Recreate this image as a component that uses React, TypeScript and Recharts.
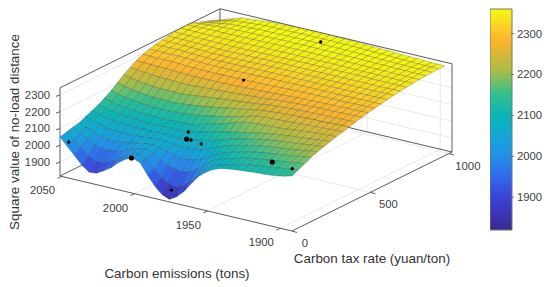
import { Bar, ComposedChart, Scatter, ScatterChart, XAxis, YAxis } from "recharts";

const WIDTH = 550;
const HEIGHT = 287;

// axis limits of the 3D box
const carbonMax = 2051;
const carbonMin = 1892;
const taxMax = 1020;
const zMin = 1817;
const zMax = 2342;

const carbonTicks = [2050, 2000, 1950, 1900];
const taxTicks = [0, 500, 1000];
const zTicks = [1900, 2000, 2100, 2200, 2300];
const colorbarTicks = [1900, 2000, 2100, 2200, 2300];
const colorbarRange = [1820, 2360];

const carbonGrid = [
  2051, 2046, 2041, 2036, 2031, 2026, 2021, 2016, 2011, 2006, 2001, 1996, 1991, 1986, 1981, 1976, 1971,
  1966, 1961, 1956, 1951, 1946, 1941, 1936, 1931, 1926, 1921, 1916, 1911, 1906, 1901, 1897, 1892,
];
const taxGrid = [
  0, 41, 81, 122, 162, 203, 244, 284, 325, 365, 406, 447, 487, 528, 568, 609, 650, 690, 731, 771, 812, 853,
  893, 934, 975,
];

// one row per tax rate, one column per carbon value
const surfaceZ = [
  [2049,2003,1958,1912,1880,1885,1910,1938,1978,2010,2025,2008,1945,1890,1850,1832,1858,1900,1958,2010,2045,2072,2088,2096,2102,2106,2110,2113,2116,2120,2126,2132,2145],
  [2060,2025,1990,1950,1925,1928,1946,1966,1995,2020,2032,2015,1965,1925,1899,1887,1906,1939,1985,2032,2063,2080,2092,2103,2115,2122,2127,2133,2138,2145,2151,2157,2163],
  [2070,2046,2023,1998,1982,1983,1992,2003,2020,2036,2042,2030,2000,1978,1964,1958,1971,1995,2028,2062,2085,2098,2110,2122,2133,2140,2146,2152,2158,2164,2170,2175,2180],
  [2078,2060,2043,2026,2016,2017,2023,2029,2038,2046,2050,2045,2030,2018,2012,2011,2020,2040,2065,2088,2106,2118,2128,2139,2150,2157,2163,2170,2175,2181,2187,2192,2198],
  [2095,2080,2068,2058,2052,2051,2052,2053,2056,2060,2063,2061,2055,2053,2053,2056,2064,2079,2098,2115,2129,2140,2149,2160,2168,2174,2180,2185,2190,2196,2202,2208,2213],
  [2112,2100,2090,2083,2078,2075,2074,2073,2072,2074,2075,2075,2072,2077,2083,2090,2099,2111,2125,2138,2150,2160,2168,2178,2186,2192,2197,2202,2206,2211,2216,2221,2225],
  [2128,2118,2110,2105,2097,2094,2092,2090,2089,2091,2091,2092,2091,2101,2111,2122,2133,2142,2151,2161,2170,2178,2186,2194,2201,2207,2212,2217,2220,2224,2229,2233,2237],
  [2150,2138,2129,2122,2115,2113,2112,2110,2108,2110,2112,2113,2115,2126,2138,2149,2160,2175,2190,2202,2210,2213,2215,2217,2218,2223,2228,2233,2236,2240,2243,2246,2248],
  [2175,2165,2155,2149,2142,2140,2138,2137,2135,2139,2142,2146,2150,2159,2168,2176,2185,2196,2207,2218,2230,2233,2236,2238,2240,2242,2245,2248,2249,2251,2254,2256,2258],
  [2204,2194,2184,2177,2170,2169,2168,2166,2165,2170,2175,2180,2185,2192,2200,2208,2215,2222,2229,2236,2245,2248,2252,2254,2256,2258,2260,2262,2262,2264,2265,2267,2268],
  [2232,2224,2215,2209,2203,2202,2202,2201,2200,2205,2210,2215,2220,2224,2229,2233,2237,2242,2246,2251,2258,2261,2264,2267,2269,2270,2272,2273,2273,2274,2276,2277,2278],
  [2258,2253,2247,2244,2240,2239,2238,2236,2235,2238,2240,2243,2245,2248,2250,2253,2255,2258,2261,2264,2270,2272,2275,2277,2279,2281,2282,2283,2283,2285,2286,2287,2288],
  [2280,2277,2276,2274,2273,2271,2269,2267,2265,2266,2267,2267,2268,2269,2271,2272,2273,2275,2277,2278,2281,2283,2285,2287,2288,2289,2290,2291,2291,2293,2294,2295,2296],
  [2298,2297,2296,2296,2295,2293,2291,2289,2287,2287,2287,2287,2287,2288,2289,2289,2290,2291,2293,2294,2296,2297,2298,2299,2299,2299,2300,2300,2300,2301,2302,2303,2304],
  [2310,2310,2310,2310,2310,2308,2306,2304,2302,2302,2302,2302,2302,2303,2304,2304,2305,2306,2306,2307,2308,2308,2308,2308,2308,2308,2308,2308,2308,2309,2310,2310,2311],
  [2320,2320,2319,2319,2318,2316,2314,2312,2310,2311,2311,2312,2312,2313,2314,2314,2315,2315,2316,2316,2316,2316,2316,2316,2316,2316,2316,2316,2316,2317,2317,2318,2318],
  [2327,2326,2326,2325,2324,2322,2321,2319,2318,2319,2319,2320,2320,2321,2322,2322,2323,2323,2323,2323,2323,2323,2323,2323,2323,2323,2323,2323,2323,2323,2324,2324,2325],
  [2332,2331,2331,2330,2329,2328,2327,2326,2325,2326,2326,2327,2327,2328,2329,2329,2330,2330,2330,2330,2330,2330,2330,2330,2330,2330,2330,2330,2330,2330,2330,2331,2331],
  [2337,2336,2336,2335,2334,2334,2333,2333,2332,2333,2333,2334,2334,2335,2335,2336,2336,2336,2337,2337,2337,2337,2337,2337,2337,2337,2337,2336,2336,2336,2336,2336,2336],
  [2340,2340,2340,2340,2340,2340,2340,2340,2340,2341,2341,2342,2342,2342,2343,2343,2343,2343,2343,2343,2343,2343,2342,2342,2342,2341,2341,2341,2341,2341,2340,2340,2340],
  [2341,2342,2344,2345,2346,2346,2347,2347,2348,2348,2349,2349,2350,2350,2350,2350,2350,2350,2350,2349,2349,2349,2348,2348,2347,2347,2346,2346,2345,2345,2345,2344,2344],
  [2335,2339,2342,2346,2349,2351,2352,2354,2355,2355,2356,2356,2357,2357,2357,2357,2357,2357,2356,2356,2355,2354,2354,2353,2352,2351,2351,2350,2349,2349,2348,2348,2347],
  [2322,2329,2336,2343,2350,2352,2355,2357,2360,2360,2361,2361,2362,2362,2362,2362,2362,2362,2361,2361,2360,2359,2358,2357,2356,2355,2354,2353,2352,2351,2351,2350,2349],
  [2307,2318,2329,2340,2350,2353,2357,2360,2364,2364,2365,2365,2366,2366,2366,2366,2366,2366,2365,2365,2364,2363,2362,2360,2359,2358,2357,2355,2354,2353,2352,2351,2350],
  [2293,2307,2321,2336,2350,2354,2358,2362,2366,2367,2368,2369,2370,2370,2370,2370,2370,2369,2369,2368,2367,2365,2364,2362,2361,2359,2358,2356,2355,2354,2352,2351,2350],
];

// measured samples [carbon, tax, value]
const samples = [
  [2049, 37, 2006], [1978, 31, 1869], [1985, 204, 2121], [1981, 184, 2091], [1974, 184, 2081],
  [1980, 510, 2299], [1971, 918, 2356], [1894, 20, 2174],
];
const largeSamples = [[2002, 0, 2025], [1984, 184, 2090], [1911, 51, 2165]];

const colorValues = [1820, 1860, 1900, 1950, 2000, 2050, 2100, 2150, 2180, 2210, 2250, 2280, 2310, 2335, 2360];
const colorStops = [
  "#392a8e", "#3c35b5", "#3a44d8", "#2f6aec", "#248fe8", "#13a8d5", "#0bb5b5", "#2fbf90", "#6cc06a",
  "#aabd48", "#d8b836", "#fcb42e", "#fbc82a", "#f7e41c", "#f5f90f",
];

const project = (carbon, tax, z) => {
  const u = (carbonMax - carbon) / (carbonMax - carbonMin);
  const v = tax / taxMax;
  return {
    px: 60 + 232 * u + 160 * v,
    py: 176 + 55 * u - 79 * v - (z - zMin) * 0.168,
  };
};

const hexToRgb = (hex) => [1, 3, 5].map((i) => parseInt(hex.slice(i, i + 2), 16));

const colorFor = (z) => {
  const last = colorValues.length - 1;
  if (z <= colorValues[0]) return colorStops[0];
  if (z >= colorValues[last]) return colorStops[last];
  const k = colorValues.findIndex((value) => value > z);
  const t = (z - colorValues[k - 1]) / (colorValues[k] - colorValues[k - 1]);
  const a = hexToRgb(colorStops[k - 1]);
  const b = hexToRgb(colorStops[k]);
  const rgb = a.map((c, i) => Math.round(c + (b[i] - c) * t));
  return `rgb(${rgb.join(",")})`;
};

// painter's order: far rows first, left columns first
const cells = [];
for (let j = taxGrid.length - 2; j >= 0; j--) {
  for (let i = 0; i < carbonGrid.length - 1; i++) {
    const corners = [
      project(carbonGrid[i], taxGrid[j], surfaceZ[j][i]),
      project(carbonGrid[i + 1], taxGrid[j], surfaceZ[j][i + 1]),
      project(carbonGrid[i + 1], taxGrid[j + 1], surfaceZ[j + 1][i + 1]),
      project(carbonGrid[i], taxGrid[j + 1], surfaceZ[j + 1][i]),
    ];
    const mean = (surfaceZ[j][i] + surfaceZ[j][i + 1] + surfaceZ[j + 1][i + 1] + surfaceZ[j + 1][i]) / 4;
    cells.push({ ...corners[0], corners, fill: colorFor(mean) });
  }
}

const segment = (a, b) => ({ ...a, qx: b.px, qy: b.py });

const lightGrid = [
  ...carbonTicks.slice(1).map((c) => segment(project(c, 0, zMin), project(c, taxMax, zMin))),
  ...taxTicks.slice(1).map((t) => segment(project(carbonMax, t, zMin), project(carbonMin, t, zMin))),
  ...zTicks.map((z) => segment(project(carbonMax, 0, z), project(carbonMax, taxMax, z))),
  ...zTicks.map((z) => segment(project(carbonMax, taxMax, z), project(carbonMin, taxMax, z))),
  ...carbonTicks.slice(1).map((c) => segment(project(c, taxMax, zMin), project(c, taxMax, zMax))),
  ...taxTicks.slice(1, 2).map((t) => segment(project(carbonMax, t, zMin), project(carbonMax, t, zMax))),
];

const backFrame = [
  segment(project(carbonMax, 0, zMin), project(carbonMax, taxMax, zMin)),
  segment(project(carbonMax, taxMax, zMin), project(carbonMin, taxMax, zMin)),
  segment(project(carbonMax, taxMax, zMin), project(carbonMax, taxMax, zMax)),
  segment(project(carbonMax, 0, zMax), project(carbonMax, taxMax, zMax)),
  segment(project(carbonMax, taxMax, zMax), project(carbonMin, taxMax, zMax)),
];

const frontFrame = [
  segment(project(carbonMax, 0, zMin), project(carbonMin, 0, zMin)),
  segment(project(carbonMin, 0, zMin), project(carbonMin, taxMax, zMin)),
  segment(project(carbonMax, 0, zMin), project(carbonMax, 0, zMax)),
  segment(project(carbonMin, taxMax, zMin), project(carbonMin, taxMax, zMax)),
  ...zTicks.map((z) => {
    const p = project(carbonMax, 0, z);
    return segment(p, { px: p.px - 4, py: p.py + 1.5 });
  }),
  ...carbonTicks.map((c) => {
    const p = project(c, 0, zMin);
    return segment(p, { px: p.px - 4, py: p.py + 2 });
  }),
  ...taxTicks.map((t) => {
    const p = project(carbonMin, t, zMin);
    return segment(p, { px: p.px + 5, py: p.py + 1.5 });
  }),
];

const tickLabels = [
  ...zTicks.map((z) => {
    const p = project(carbonMax, 0, z);
    return { px: p.px - 10, py: p.py + 4, text: String(z), anchor: "end" };
  }),
  ...carbonTicks.map((c) => {
    const p = project(c, 0, zMin);
    return { px: p.px - 19, py: p.py + 18, text: String(c), anchor: "middle" };
  }),
  ...taxTicks.map((t) => {
    const p = project(carbonMin, t, zMin);
    return { px: p.px + 13 + Math.min(t / 100, 6), py: p.py + 16, text: String(t), anchor: "middle" };
  }),
];

const axisTitles = [
  { px: 177, py: 278, text: "Carbon emissions (tons)", angle: 0 },
  { px: 372, py: 263, text: "Carbon tax rate (yuan/ton)", angle: 0 },
  { px: 18.5, py: 132, text: "Square value of no-load distance", angle: -90 },
];

const toPoint = ([c, t, z]) => project(c, t, z);

const CellShape = (props) => {
  const { cx, cy, payload } = props;
  const points = payload.corners
    .map((c) => `${cx + c.px - payload.px},${cy + c.py - payload.py}`)
    .join(" ");
  return <polygon points={points} fill={payload.fill} stroke="#1a2a38" strokeOpacity={0.45} strokeWidth={0.5} />;
};

const makeLine = (stroke, width) => (props) => {
  const { cx, cy, payload } = props;
  return (
    <line
      x1={cx}
      y1={cy}
      x2={cx + payload.qx - payload.px}
      y2={cy + payload.qy - payload.py}
      stroke={stroke}
      strokeWidth={width}
    />
  );
};

const TickText = (props) => (
  <text x={props.cx} y={props.cy} textAnchor={props.payload.anchor} fontSize={11.3} fill="#404040" fontFamily="Arial, 'Liberation Sans'">
    {props.payload.text}
  </text>
);

const TitleText = (props) => (
  <text
    x={props.cx}
    y={props.cy}
    textAnchor="middle"
    fontSize={13.4}
    fill="#333333"
    fontFamily="Arial, 'Liberation Sans'"
    transform={`rotate(${props.payload.angle} ${props.cx} ${props.cy})`}
  >
    {props.payload.text}
  </text>
);

const makeDot = (r) => (props) => <circle cx={props.cx} cy={props.cy} r={r} fill="#000000" />;

const ColorbarTick = (props) => {
  const { x, y, payload } = props;
  return (
    <g>
      <line x1={x - 3} x2={x} y1={y} y2={y} stroke="#555555" strokeWidth={0.7} />
      <text x={x + 3} y={y + 4} fontSize={11.3} fill="#404040" fontFamily="Arial, 'Liberation Sans'">
        {payload.value}
      </text>
    </g>
  );
};

const colorbarData = [{ name: "value", range: colorbarRange }];

export default function App() {
  return (
    <div style={{ position: "absolute", left: 0, top: 0, width: WIDTH, height: HEIGHT, background: "#ffffff" }}>
      <ScatterChart width={WIDTH} height={HEIGHT} margin={{ top: 0, right: 0, bottom: 0, left: 0 }}>
        <XAxis type="number" dataKey="px" domain={[0, WIDTH]} hide />
        <YAxis type="number" dataKey="py" domain={[0, HEIGHT]} reversed hide />
        <Scatter data={lightGrid} shape={makeLine("#e3e3e3", 0.8)} isAnimationActive={false} />
        <Scatter data={backFrame} shape={makeLine("#5a5a5a", 1)} isAnimationActive={false} />
        <Scatter data={cells} shape={CellShape} isAnimationActive={false} />
        <Scatter data={frontFrame} shape={makeLine("#5a5a5a", 1)} isAnimationActive={false} />
        <Scatter data={samples.map(toPoint)} shape={makeDot(1.7)} isAnimationActive={false} />
        <Scatter data={largeSamples.map(toPoint)} shape={makeDot(2.6)} isAnimationActive={false} />
        <Scatter data={tickLabels} shape={TickText} isAnimationActive={false} />
        <Scatter data={axisTitles} shape={TitleText} isAnimationActive={false} />
      </ScatterChart>
      <div style={{ position: "absolute", left: 490, top: 0 }}>
        <ComposedChart
          width={60}
          height={240}
          data={colorbarData}
          margin={{ top: 9, right: 0, bottom: 10, left: 0 }}
          barCategoryGap={0}
        >
          <defs>
            <linearGradient id="parula" x1="0" y1="1" x2="0" y2="0">
              {colorValues.map((value, i) => (
                <stop
                  key={value}
                  offset={(value - colorbarRange[0]) / (colorbarRange[1] - colorbarRange[0])}
                  stopColor={colorStops[i]}
                />
              ))}
            </linearGradient>
          </defs>
          <XAxis dataKey="name" hide />
          <YAxis
            orientation="right"
            width={38}
            type="number"
            domain={colorbarRange}
            ticks={colorbarTicks}
            axisLine={false}
            tickLine={false}
            tickSize={0}
            tick={ColorbarTick}
          />
          <Bar dataKey="range" fill="url(#parula)" stroke="#777777" isAnimationActive={false} />
        </ComposedChart>
      </div>
    </div>
  );
}
